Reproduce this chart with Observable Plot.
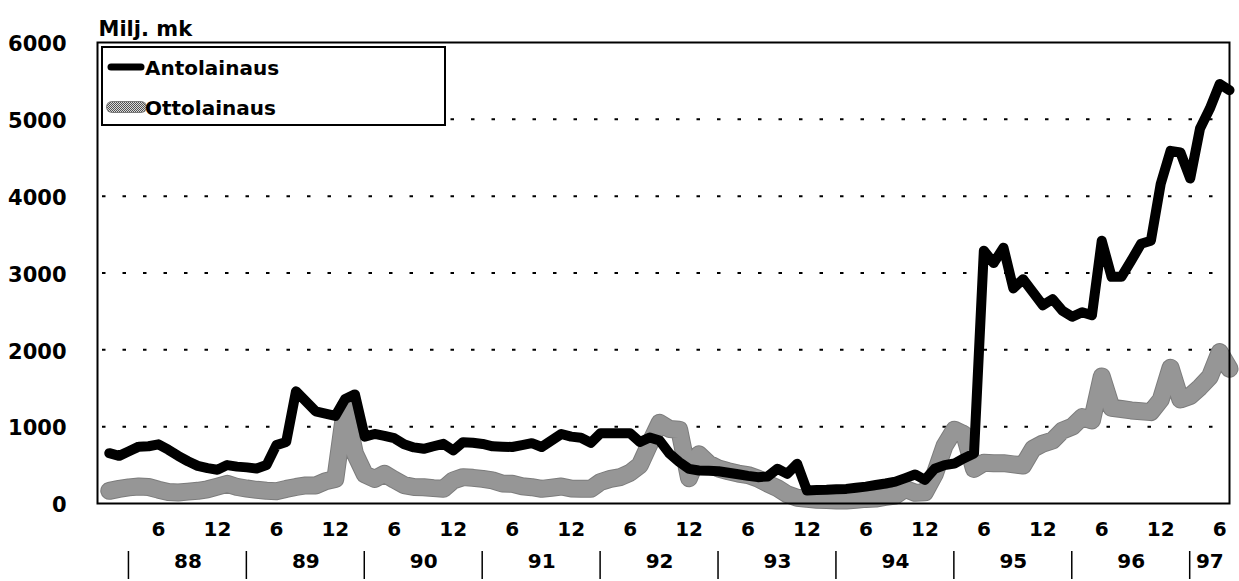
<!DOCTYPE html>
<html>
<head>
<meta charset="utf-8">
<script src="https://cdn.jsdelivr.net/npm/d3@7"></script>
<script src="https://cdn.jsdelivr.net/npm/@observablehq/plot@0.6"></script>
<style>
  html, body { margin: 0; padding: 0; background: #fff; }
</style>
</head>
<body>
<div id="chart"></div>
<script>
// ---- Data (million marks, monthly, Jan 1988 – Jul 1997) ----
const antolainaus = [
  655, 620, 680, 740, 745, 770, 700, 620, 550, 490, 460, 440,
  500, 480, 470, 455, 500, 760, 800, 1460, 1330, 1200, 1170, 1140,
  1360, 1420, 870, 905, 880, 850, 770, 730, 712, 745, 777, 690,
  798, 790, 775, 745, 740, 735, 760, 785, 735, 820, 905, 870,
  855, 790, 915, 915, 915, 915, 800, 860, 820, 650, 540, 450,
  430, 425, 420, 400, 380, 360, 343, 352, 452, 386, 517, 170,
  175, 178, 185, 190, 205, 220, 240, 260, 285, 330, 378, 308,
  452, 500, 520, 590, 650, 3290, 3130, 3330, 2800, 2920, 2750, 2580,
  2660, 2510, 2430, 2490, 2450, 3420, 2950, 2950, 3160, 3380, 3420, 4160,
  4590, 4570, 4230, 4880, 5140, 5460, 5380
];
const ottolainaus = [
  165, 190, 210, 221, 215, 180, 150, 143, 155, 165, 185, 220,
  256, 215, 195, 178, 165, 160, 190, 215, 235, 234, 290, 320,
  1250, 650, 380, 320, 386, 310, 240, 215, 212, 200, 191, 300,
  343, 334, 320, 300, 260, 256, 225, 212, 191, 205, 221, 195,
  191, 191, 280, 320, 343, 400, 500, 780, 1050, 970, 960, 330,
  640, 520, 455, 420, 390, 370, 325, 260, 200, 120, 75, 60,
  50, 45, 40, 40, 50, 60, 65, 85, 104, 190, 140, 145,
  380, 750, 960, 900, 450, 530, 525, 525, 510, 495, 712, 780,
  820, 950, 1000, 1124, 1081, 1654, 1246, 1230, 1211, 1200, 1189, 1350,
  1767, 1354, 1400, 1514, 1650, 1970, 1753
];
const seriesNames = ["Antolainaus", "Ottolainaus"];
const unitLabel = "Milj. mk";
const startYear = 1988;
const yearLabels = ["88", "89", "90", "91", "92", "93", "94", "95", "96", "97"];
const monthTickMonths = [6, 12];
const yTicks = [0, 1000, 2000, 3000, 4000, 5000, 6000];
const gridValues = [1000, 2000, 3000, 4000, 5000];
const groupOffset = 2; // year-group separators sit two months into each year in the original

// ---- Derived table ----
const n = antolainaus.length;
const rows = d3.range(n).map(i => ({
  i,
  year: startYear + Math.floor(i / 12),
  month: (i % 12) + 1,
  anto: antolainaus[i],
  otto: ottolainaus[i]
}));
const monthTicks = rows
  .filter(d => monthTickMonths.includes(d.month))
  .map(d => ({i: d.i, label: String(d.month)}));
const xMax = n - 1;
const separators = yearLabels.map((_, k) => groupOffset + 12 * k);
const yearPos = yearLabels.map((label, k) => ({
  label,
  i: ((separators[k]) + (k + 1 < separators.length ? separators[k + 1] : xMax)) / 2
}));

const FONT = "DejaVu Sans, Liberation Sans, sans-serif";

// defs: dithered grey pattern
const defsMark = () => {
  const g = d3.create("svg:g");
  const pat = g.append("defs").append("pattern")
    .attr("id", "dither").attr("width", 2).attr("height", 2)
    .attr("patternUnits", "userSpaceOnUse");
  pat.append("rect").attr("width", 2).attr("height", 2).attr("fill", "#dadada");
  pat.append("rect").attr("width", 1).attr("height", 1).attr("fill", "#525252");
  pat.append("rect").attr("x", 1).attr("y", 1).attr("width", 1).attr("height", 1).attr("fill", "#525252");
  return g.node();
};

// legend box
const legendMark = (index, scales, values, dim) => {
  const g = d3.create("svg:g");
  const x0 = dim.marginLeft + 5, y0 = dim.marginTop + 5;
  g.append("rect").attr("x", x0).attr("y", y0).attr("width", 343).attr("height", 78)
    .attr("fill", "white").attr("stroke", "black").attr("stroke-width", 2);
  // black sample
  g.append("line").attr("x1", x0 + 9).attr("x2", x0 + 39).attr("y1", y0 + 20).attr("y2", y0 + 20)
    .attr("stroke", "black").attr("stroke-width", 7).attr("stroke-linecap", "round");
  // grey sample
  g.append("line").attr("x1", x0 + 10).attr("x2", x0 + 39).attr("y1", y0 + 60).attr("y2", y0 + 60)
    .attr("stroke", "#7a7a7a").attr("stroke-width", 12).attr("stroke-linecap", "round");
  g.append("line").attr("x1", x0 + 10).attr("x2", x0 + 39).attr("y1", y0 + 60).attr("y2", y0 + 60)
    .attr("stroke", "url(#dither)").attr("stroke-width", 10).attr("stroke-linecap", "round");
  seriesNames.forEach((name, k) => {
    g.append("text").attr("x", x0 + 43).attr("y", y0 + 21 + 40 * k)
      .attr("dy", "0.35em").attr("text-anchor", "start")
      .attr("font-family", FONT).attr("font-size", 20).attr("font-weight", "bold")
      .attr("fill", "black").text(name);
  });
  return g.node();
};

// year group separators below axis
const separatorMark = (index, scales, values, dim) => {
  const g = d3.create("svg:g");
  const base = dim.height - dim.marginBottom;
  separators.forEach(s => {
    const x = scales.x(s);
    g.append("line").attr("x1", x).attr("x2", x).attr("y1", base + 48).attr("y2", base + 76)
      .attr("stroke", "black").attr("stroke-width", 1.5);
  });
  return g.node();
};

const chart = Plot.plot({
  width: 1239,
  height: 581,
  marginLeft: 97,
  marginRight: 10,
  marginTop: 42,
  marginBottom: 78,
  style: {fontFamily: FONT, fontSize: "21px", fontWeight: "bold", background: "white", color: "black"},
  x: {domain: [-1.2, xMax], axis: null},
  y: {domain: [0, 6000], axis: null},
  marks: [
    defsMark,
    Plot.ruleY(gridValues, {stroke: "black", strokeWidth: 2, strokeDasharray: "3.5,17", strokeDashoffset: -5}),
    Plot.line(rows, {x: "i", y: "otto", stroke: "#7c7c7c", strokeWidth: 18, strokeLinejoin: "round", strokeLinecap: "round"}),
    Plot.line(rows, {x: "i", y: "otto", stroke: "url(#dither)", strokeWidth: 16, strokeLinejoin: "round", strokeLinecap: "round"}),
    Plot.line(rows, {x: "i", y: "anto", stroke: "black", strokeWidth: 10, strokeLinejoin: "round", strokeLinecap: "round"}),
    Plot.frame({stroke: "black", strokeWidth: 2}),
    legendMark,
    Plot.axisY(yTicks, {tickSize: 0, tickPadding: 31, tickFormat: d => String(d), fontSize: 21, fontWeight: "bold", fontFamily: FONT, label: null, dy: 2}),
    Plot.text([unitLabel], {text: d => d, frameAnchor: "top-left", textAnchor: "start", dx: 1, dy: -21, fontSize: 21, fontWeight: "bold", fontFamily: FONT}),
    Plot.text(monthTicks, {x: "i", text: "label", frameAnchor: "bottom", dy: 32, fontSize: 20, fontWeight: "bold", fontFamily: FONT}),
    Plot.text(yearPos, {x: "i", text: "label", frameAnchor: "bottom", dy: 64, fontSize: 20, fontWeight: "bold", fontFamily: FONT}),
    separatorMark
  ]
});
document.getElementById("chart").appendChild(chart);
</script>
</body>
</html>
